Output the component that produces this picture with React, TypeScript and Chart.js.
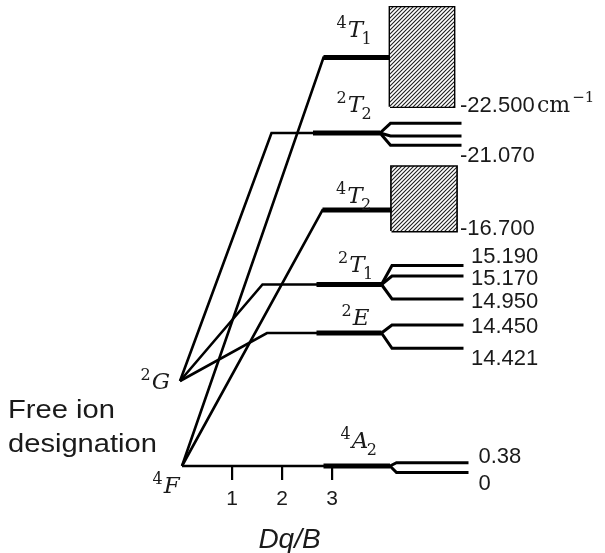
import React, { useEffect, useRef } from 'react';
import { Chart, registerables } from 'chart.js';

Chart.register(...registerables);

// ---- Free ions (left end of the correlation lines, Dq/B = 0) ----
const freeIonSup = ['4', '2'];
const freeIonLetter = ['F', 'G'];
const freeIonX = [0, -0.04];
const freeIonY = [0, 85];
const freeIonLabelX = [-0.59, -0.83];
const freeIonLabelY = [-27, 76.7];

// ---- Crystal-field terms (schematic heights) ----
const levelSup = ['4', '2', '2', '4', '2', '4'];
const levelLetter = ['A', 'E', 'T', 'T', 'T', 'T'];
const levelSub = ['2', '', '1', '2', '2', '1'];
const levelParent = [0, 1, 1, 0, 1, 0];
const levelY = [0, 133, 181.5, 256, 333, 408.5];
const levelBendX = [0, 1.7, 1.61, 2.81, 1.79, 2.83];
const levelThickX = [2.83, 2.69, 2.69, 2.81, 2.62, 2.83];
const levelEndX = [4.16, 3.99, 3.99, 4.19, 3.96, 4.16];
const levelLabelX = [3.17, 3.19, 3.12, 3.08, 3.09, 3.09];
const levelLabelY = [17.7, 141, 194.3, 262.7, 354.3, 429.3];

// ---- Split components ----
const splitY = [[3.3, -6.5], [141, 117.7], [200.5, 190, 167], [], [342.7, 330, 320.7], []];
const splitBendX = [4.29, 4.2, 4.2, 0, 4.17, 0];
const splitEndX = [5.73, 5.63, 5.63, 0, 5.59, 0];

// ---- Broad bands (hatched) ----
const bandX0 = [4.16, 4.19];
const bandX1 = [5.44, 5.49];
const bandTop = [458.7, 299.3];
const bandBottom = [359.3, 235];

// ---- Energy labels (cm^-1) ----
const energyLabels = ['0', '0.38', '14.421', '14.450', '14.950', '15.170', '15.190', '-16.700', '-21.070', '-22.500'];
const energyLabelX = [5.93, 5.93, 5.78, 5.78, 5.78, 5.78, 5.78, 5.56, 5.56, 5.56];
const energyLabelY = [-24, 2.7, 101, 132.7, 157.7, 181, 203.3, 231, 304.3, 354.3];
const unitText = ['cm', '\u22121'];
const unitX = 7.1;
const unitY = 354.3;

// ---- Axis ----
const tickValues = [1, 2, 3];
const axisTitle = 'Dq/B';
const axisTitleX = 2.15;
const axisTitleY = -82.3;
const sideText = ['Free ion', 'designation'];
const sideTextX = -3.48;
const sideTextY = [47.7, 14.3];

const SANS = '"Liberation Sans", Arial, sans-serif';
const SERIF = '"DejaVu Serif", "Liberation Serif", serif';

function drawTerm(ctx: CanvasRenderingContext2D, x: number, y: number, sup: string, letter: string, sub: string) {
  ctx.font = `16px ${SERIF}`;
  ctx.fillText(sup, x, y - 9);
  let cx = x + ctx.measureText(sup).width + 1;
  ctx.font = `italic 23px ${SERIF}`;
  ctx.fillText(letter, cx, y);
  cx += ctx.measureText(letter).width - 1.5;
  if (sub) {
    ctx.font = `16px ${SERIF}`;
    ctx.fillText(sub, cx, y + 7);
  }
}

const textPlugin = {
  id: 'diagramText',
  afterDatasetsDraw(chart: any) {
    const { ctx } = chart;
    const sx = chart.scales.x;
    const sy = chart.scales.y;
    const px = (v: number) => sx.getPixelForValue(v);
    const py = (v: number) => sy.getPixelForValue(v);
    ctx.save();
    ctx.fillStyle = '#1a1a1a';
    ctx.textBaseline = 'alphabetic';
    ctx.textAlign = 'left';

    ctx.font = `22px ${SANS}`;
    energyLabels.forEach((t, i) => ctx.fillText(t, px(energyLabelX[i]), py(energyLabelY[i])));

    ctx.font = `22px ${SERIF}`;
    ctx.fillText(unitText[0], px(unitX), py(unitY));
    const uw = ctx.measureText(unitText[0]).width;
    ctx.font = `15px ${SERIF}`;
    ctx.fillText(unitText[1], px(unitX) + uw + 2, py(unitY) - 10);

    levelLetter.forEach((l, i) => drawTerm(ctx, px(levelLabelX[i]), py(levelLabelY[i]), levelSup[i], l, levelSub[i]));
    freeIonLetter.forEach((l, i) => drawTerm(ctx, px(freeIonLabelX[i]), py(freeIonLabelY[i]), freeIonSup[i], l, ''));

    sideText.forEach((t, i) => {
      ctx.save();
      ctx.translate(px(sideTextX), py(sideTextY[i]));
      ctx.scale(1.12, 1);
      ctx.font = `26px ${SANS}`;
      ctx.fillText(t, 0, 0);
      ctx.restore();
    });

    ctx.font = `italic 28px ${SANS}`;
    ctx.textAlign = 'center';
    ctx.fillText(axisTitle, px(axisTitleX), py(axisTitleY));
    ctx.restore();
  },
};

function makeHatch(ctx: CanvasRenderingContext2D): CanvasPattern | string {
  const s = 4;
  const pc = document.createElement('canvas');
  pc.width = s;
  pc.height = s;
  const g = pc.getContext('2d');
  if (!g) return '#888';
  g.fillStyle = '#ffffff';
  g.fillRect(0, 0, s, s);
  g.strokeStyle = '#1e1e1e';
  g.lineWidth = 1.1;
  g.beginPath();
  g.moveTo(0, s);
  g.lineTo(s, 0);
  g.moveTo(-1, 1);
  g.lineTo(1, -1);
  g.moveTo(s - 1, s + 1);
  g.lineTo(s + 1, s - 1);
  g.stroke();
  return ctx.createPattern(pc, 'repeat') || '#888';
}

const line = (data: { x: number; y: number }[], width: number, extra: any = {}) => ({
  type: 'scatter',
  data,
  showLine: true,
  pointRadius: 0,
  borderColor: '#000',
  backgroundColor: '#000',
  borderWidth: width,
  borderJoinStyle: 'miter',
  borderCapStyle: 'butt',
  fill: false,
  tension: 0,
  ...extra,
});

export default function App() {
  const ref = useRef<HTMLCanvasElement>(null);
  useEffect(() => {
    const canvas = ref.current;
    if (!canvas) return;
    const ctx = canvas.getContext('2d') as CanvasRenderingContext2D;
    const hatch = makeHatch(ctx);

    const datasets: any[] = [];
    levelY.forEach((ly, i) => {
      const p = levelParent[i];
      datasets.push(line([
        { x: freeIonX[p], y: freeIonY[p] },
        { x: levelBendX[i], y: ly },
        { x: levelEndX[i], y: ly },
      ], 2.6));
      datasets.push(line([
        { x: levelThickX[i], y: ly },
        { x: levelEndX[i], y: ly },
      ], 5));
      splitY[i].forEach((s) => {
        datasets.push(line([
          { x: levelEndX[i], y: ly },
          { x: splitBendX[i], y: s },
          { x: splitEndX[i], y: s },
        ], 3));
      });
    });
    bandX0.forEach((x0, i) => {
      datasets.push(line([
        { x: x0, y: bandTop[i] },
        { x: bandX1[i], y: bandTop[i] },
      ], 0, { fill: { value: bandBottom[i] }, backgroundColor: hatch }));
      datasets.push(line([
        { x: x0, y: bandBottom[i] },
        { x: x0, y: bandTop[i] },
        { x: bandX1[i], y: bandTop[i] },
        { x: bandX1[i], y: bandBottom[i] },
        { x: x0, y: bandBottom[i] },
      ], 2.8));
    });

    const chart = new Chart(canvas, {
      type: 'scatter',
      data: { datasets },
      options: {
        animation: false,
        responsive: false,
        maintainAspectRatio: false,
        events: [],
        layout: { padding: 0 },
        plugins: { legend: { display: false }, tooltip: { enabled: false } },
        scales: {
          x: {
            type: 'linear',
            min: -3.64,
            max: 8.46,
            position: { y: 0 } as any,
            border: { display: false },
            grid: { drawOnChartArea: false, drawTicks: true, tickLength: 14, color: '#000', lineWidth: 2.2 },
            ticks: {
              color: '#1a1a1a',
              font: { size: 21, family: SANS },
              padding: 7,
              autoSkip: false,
              maxRotation: 0,
              callback: (v: any) => String(v),
            },
            afterBuildTicks: (axis: any) => {
              axis.ticks = tickValues.map((v) => ({ value: v }));
            },
          },
          y: { type: 'linear', display: false, min: -87, max: 466 },
        },
      } as any,
      plugins: [textPlugin],
    } as any);
    return () => chart.destroy();
  }, []);
  return (
    <div style={{ position: 'absolute', left: 0, top: 0, width: 605, height: 553, background: '#fff' }}>
      <canvas ref={ref} width={605} height={553} style={{ display: 'block' }} />
    </div>
  );
}
